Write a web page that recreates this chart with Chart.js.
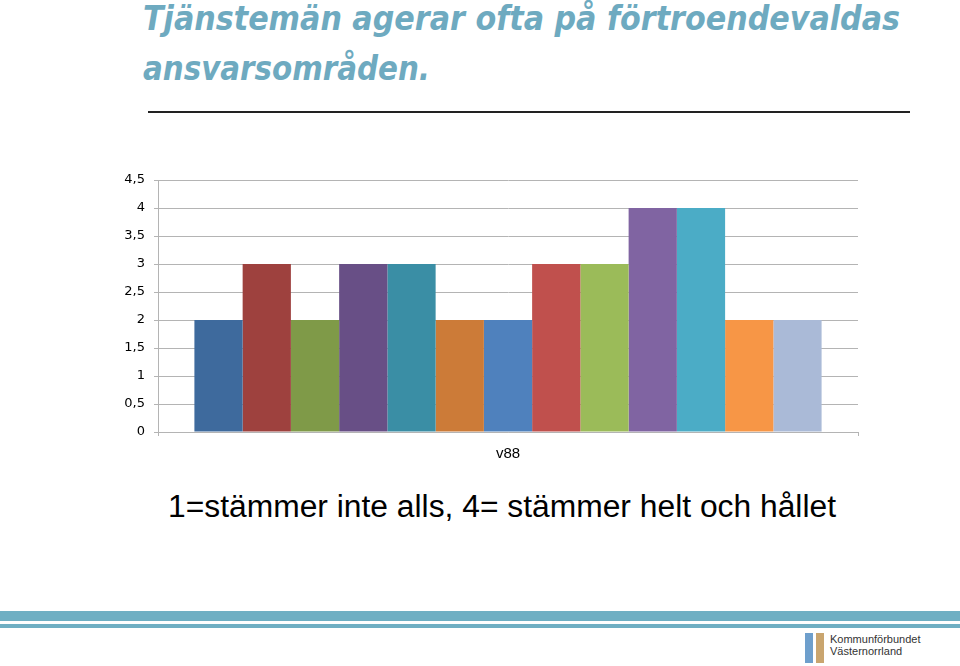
<!DOCTYPE html>
<html>
<head>
<meta charset="utf-8">
<script src="https://cdn.jsdelivr.net/npm/chart.js@4/dist/chart.umd.min.js"></script>
<style>
    body { margin: 0; width: 960px; height: 666px; background: #fff; position: relative; overflow: hidden; font-family: "Liberation Sans", Arial, sans-serif; }
    .title { position: absolute; left: 143px; color: #6eaac0; font-family: "DejaVu Sans Condensed", "DejaVu Sans", sans-serif; font-weight: bold; font-style: italic; font-size: 33px; white-space: nowrap; transform-origin: left center; line-height: 1; }
    #t1 { top: 2px; }
    #t2 { top: 52px; }
    .rule { position: absolute; left: 148px; width: 762px; top: 111px; height: 2px; background: #222; }
    #chartBox { position: absolute; left: 0; top: 160px; width: 960px; height: 310px; }
    .subtitle { position: absolute; left: 168px; top: 489px; font-size: 31px; color: #000; white-space: nowrap; transform-origin: left center; }
    .band1 { position: absolute; left: 0; width: 960px; top: 611px; height: 10px; background: #6fafc3; }
    .band2 { position: absolute; left: 0; width: 960px; top: 624px; height: 4px; background: #6fafc3; }
    .logoA { position: absolute; left: 805px; top: 633px; width: 8px; height: 30px; background: #6e9fcc; }
    .logoB { position: absolute; left: 816px; top: 633px; width: 8px; height: 30px; background: #c9a56f; }
    .logoText { position: absolute; left: 830px; top: 633px; font-size: 11px; line-height: 12px; color: #333; font-family: "Liberation Sans Narrow", "Liberation Sans", sans-serif; }
</style>
</head>
<body>
<div class="title" id="t1">Tjänstemän agerar ofta på förtroendevaldas</div>
<div class="title" id="t2">ansvarsområden.</div>
<div class="rule"></div>
<div id="chartBox"><canvas id="barChart"></canvas></div>
<div class="subtitle" id="sub">1=stämmer inte alls, 4= stämmer helt och hållet</div>
<div class="band1"></div>
<div class="band2"></div>
<div class="logoA"></div>
<div class="logoB"></div>
<div class="logoText">Kommunförbundet<br>Västernorrland</div>

<script>
// data
const categories = ['v88']
const values = [2, 3, 2, 3, 3, 2, 2, 3, 3, 4, 4, 2, 2]
const yTicks = [0, 0.5, 1, 1.5, 2, 2.5, 3, 3.5, 4, 4.5]

// Office 2007 series colours
const colors = ['#3e6a9d', '#9e413e', '#7f9a48', '#684f86', '#3a8ea5', '#cc7b38',
    '#4f81bd', '#c0504d', '#9bbb59', '#8064a2', '#4bacc6', '#f79646', '#aabad7']

// stretch the text lines to their width in the picture
function fitWidth(id, width) {
    const el = document.getElementById(id)
    const w = el.getBoundingClientRect().width
    el.style.transform = 'scaleX(' + (width / w) + ')'
}
fitWidth('t1', 757)
fitWidth('t2', 287)
fitWidth('sub', 668)

const datasets = values.map((v, i) => ({
    label: 'Serie ' + (i + 1),
    data: [v],
    backgroundColor: colors[i],
    borderWidth: 0,
    barPercentage: 1,
    categoryPercentage: 0.896
}))

const gridColor = '#b4b4b4'

new Chart(document.getElementById('barChart'), {
    type: 'bar',
    data: { labels: categories, datasets: datasets },
    options: {
        responsive: true,
        maintainAspectRatio: false,
        animation: false,
        layout: { padding: { left: 0, right: 102, top: 20, bottom: 0 } },
        plugins: {
            legend: { display: false },
            tooltip: { enabled: false }
        },
        scales: {
            x: {
                grid: { drawOnChartArea: false, drawTicks: true, tickLength: 4, color: gridColor },
                border: { color: gridColor },
                ticks: { color: '#000', padding: 9, font: { family: 'Liberation Sans', size: 15 } },
                afterFit: s => { s.height = 38 }
            },
            y: {
                min: 0,
                max: 4.5,
                afterBuildTicks: s => { s.ticks = yTicks.map(v => ({ value: v })) },
                grid: { color: gridColor, tickLength: 4 },
                border: { color: gridColor },
                ticks: {
                    color: '#000',
                    padding: 9,
                    font: { family: 'DejaVu Sans', size: 13 },
                    callback: v => String(v).replace('.', ',')
                },
                afterFit: s => { s.width = 158 }
            }
        }
    }
})
</script>
</body>
</html>
